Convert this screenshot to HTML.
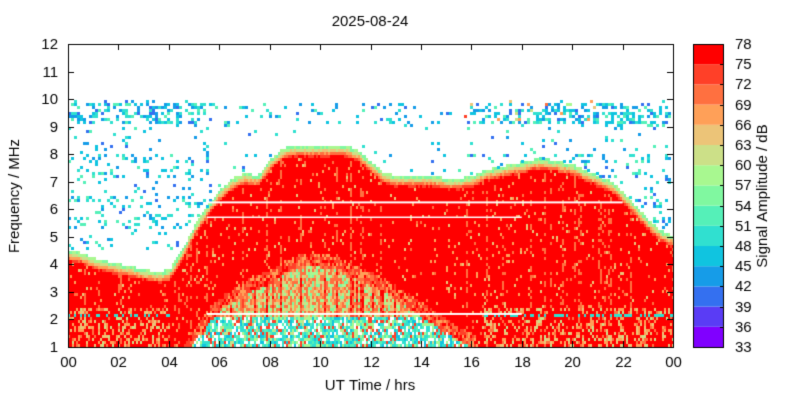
<!DOCTYPE html>
<html><head><meta charset="utf-8"><style>
body{margin:0;background:#fff;}
#wrap{position:relative;width:800px;height:400px;font-family:"Liberation Sans",sans-serif;}
canvas{position:absolute;left:0;top:0;}
</style></head><body>
<div id="wrap">
<canvas id="c" width="800" height="400"></canvas>
</div>
<script>
// ---- data ----
const envTimes=[0,0.5,1,1.5,2,2.5,3,3.5,4,4.5,5,5.5,6,6.5,7,7.5,8,8.5,9,9.5,10,10.5,11,11.5,12,12.5,13,13.5,14,14.5,15,15.5,16,16.5,17,17.5,18,18.5,19,19.5,20,20.5,21,21.5,22,22.5,23,23.5,24];
const envTop=[4.4,4.3,4.1,4.0,3.9,3.8,3.7,3.6,3.7,4.4,5.3,6.0,6.6,7.0,7.2,7.1,7.7,8.1,8.2,8.2,8.2,8.2,8.2,8.0,7.6,7.2,7.1,7.1,7.1,7.1,7.0,7.0,7.1,7.3,7.4,7.5,7.6,7.7,7.7,7.6,7.5,7.3,7.1,6.9,6.5,6.0,5.5,5.1,4.9];
const absTop=[0,0,0,0,0,0,0,0,0,0.5,1.2,1.8,2.3,2.6,2.9,3.1,3.3,3.6,3.8,3.9,3.9,3.8,3.6,3.4,3.2,3.0,2.7,2.4,2.1,1.8,1.5,1.2,1.0,0,0,0,0,0,0,0,0,0,0,0,0,0,0,0,0];
const dotDensity=[0.2,0.2,0.2,0.2,0.2,0.2,0.2,0.2,0.2,0.2,0.2,0.18,0.04,0.04,0.04,0.04,0.04,0.04,0.04,0.04,0.05,0.05,0.05,0.06,0.07,0.07,0.07,0.07,0.07,0.07,0.07,0.07,0.08,0.1,0.12,0.14,0.16,0.18,0.2,0.2,0.2,0.2,0.2,0.2,0.2,0.2,0.2,0.2,0.2];
const xTicks=["00","02","04","06","08","10","12","14","16","18","20","22","00"];
const yTicks=[1,2,3,4,5,6,7,8,9,10,11,12];
const cbLevels=[33,36,39,42,45,48,51,54,57,60,63,66,69,72,75,78];
const cbColors=["#8000ff","#5a3cf5","#3470f0","#169ce8","#10c4e0","#30e0d0","#55f0b8","#80f8a0","#a8f890","#cce088","#ecc478","#ffa058","#ff7040","#ff4028","#ff0000"];
// ---- axes ----
const X0=68,X1=673,Y0=347,Y1=44;
const xs=t=>X0+t/24*(X1-X0);
const ys=f=>Y0-(f-1)/11*(Y0-Y1);
const ctx=document.getElementById('c').getContext('2d');
function interp(arr,t){const i=Math.min(Math.floor(t*2),47);const a=t*2-i;return arr[i]*(1-a)+arr[i+1]*a;}
function h(i,j){let n=(i*374761393+j*668265263)|0;n=(n^(n>>>13))*1274126177|0;n=n^(n>>>16);return ((n>>>0)%10000)/10000;}
function col(v){let k=Math.floor((v-33)/3);k=Math.max(0,Math.min(14,k));return cbColors[k];}
// spectrogram
for(let px=X0;px<X1;px+=2){
  const t=(px-X0)/(X1-X0)*24, top=interp(envTop,t), ab=interp(absTop,t), ci=px>>1;
  const colN=h(ci,7);
  for(let py=Y1;py<Y0;py+=3){
    const f=1+(Y0-py-1.5)/(Y0-Y1)*11, ri=py|0, r=h(ci,ri);
    let v=null;
    if(f<top-0.3){
      if(f<ab){
        if(f<2.1){ if(r<0.8) v=(r<0.12)?74:(r<0.3?55+r*20:42+r*14); }
        else v=(r<0.22||colN>0.82)?70+r*8:50+r*20;
      } else if(f<ab+0.5 && ab>0){ v=(r<0.45)?74+r*4:60+r*14; }
      else { v=(r<0.07)?64+r*100:75.5; if(colN>0.9&&r<0.4)v=70; }
      if(ab===0&&f<2.4&&r<0.35) v=62+r*25;
      if(ab===0&&f<2.2&&f>2.05&&r<0.5) v=50;
    } else if(f<top){ v=60+(top-f)/0.3*16+(r-0.5)*4; }
    else if(f<top+0.12){ v=55+r*4; }
    if(v!==null){ctx.fillStyle=col(v);ctx.fillRect(px,py,2,3);}
  }
}
// scattered dots
for(let px=X0;px<X1-2;px+=3){
  const t=(px-X0)/(X1-X0)*24, top=interp(envTop,t), d=interp(dotDensity,t), ci=px;
  for(let py=Y1+5;py<Y0;py+=3){
    const f=1+(Y0-py)/(Y0-Y1)*11; if(f<=top+0.15||f>10) continue;
    const r=h(ci+999,py), band=(f>9.2&&f<9.9)?3.5:((f>7.7&&f<8.1)||(f>5.3&&f<5.9)||(f>6.1&&f<6.5)||(f>7.2&&f<7.5))?1.8:0.6;
    if(t<5.6||t>19.5){ if(f<4.6) continue; }
    if(t>5.6&&t<16 && f<8 && f>top+0.5 && r>0.02) continue;
    if(r<d*band*0.6){const v=(t>15.5&&t<22&&f>9.3&&r<0.06)?58+r*250:41+h(py,ci)*12;ctx.fillStyle=col(v);ctx.fillRect(px,py,3,3);}
  }
}
// white lines
ctx.fillStyle="#fff";
ctx.fillRect(xs(5.5),ys(6.25)-1,xs(22)-xs(5.5),2);
ctx.fillRect(xs(5.5),ys(5.7)-1,xs(18)-xs(5.5),1.5);
ctx.fillRect(xs(5.5),ys(2.2)-1,xs(18)-xs(5.5),2);
// frame & ticks
ctx.strokeStyle="#000";ctx.lineWidth=1;
ctx.strokeRect(X0+0.5,Y1+0.5,X1-X0,Y0-Y1);
ctx.fillStyle="#000";ctx.font="15px 'Liberation Sans',sans-serif";
ctx.textAlign="center";ctx.textBaseline="top";
xTicks.forEach((l,i)=>{const x=Math.round(xs(i*2))+0.5;ctx.beginPath();ctx.moveTo(x,Y0);ctx.lineTo(x,Y0-6);ctx.moveTo(x,Y1);ctx.lineTo(x,Y1+6);ctx.stroke();ctx.fillText(l,x,355);});
ctx.textAlign="right";ctx.textBaseline="middle";
yTicks.forEach(v=>{const y=Math.round(ys(v))+0.5;ctx.beginPath();ctx.moveTo(X0,y);ctx.lineTo(X0+6,y);ctx.moveTo(X1,y);ctx.lineTo(X1-6,y);ctx.stroke();ctx.fillText(v,58,y);});
ctx.textAlign="center";ctx.textBaseline="alphabetic";
ctx.fillText("UT Time / hrs",370,390);
ctx.fillText("2025-08-24",370,26);
ctx.save();ctx.translate(19,196);ctx.rotate(-Math.PI/2);ctx.fillText("Frequency / MHz",0,0);ctx.restore();
// colorbar
const CX=693,CW=30;
cbColors.forEach((c,i)=>{const ya=Y0-(i)*(Y0-Y1)/15, yb=Y0-(i+1)*(Y0-Y1)/15;ctx.fillStyle=c;ctx.fillRect(CX,yb,CW,ya-yb);});
ctx.strokeRect(CX+0.5,Y1+0.5,CW,Y0-Y1);
ctx.fillStyle="#000";ctx.textAlign="left";ctx.textBaseline="middle";
cbLevels.forEach((v,i)=>{const y=Math.round(Y0-i*(Y0-Y1)/15)+0.5;ctx.beginPath();ctx.moveTo(CX+CW-3,y);ctx.lineTo(CX+CW,y);ctx.stroke();ctx.fillText(v,735,y);});
ctx.save();ctx.translate(767,196);ctx.rotate(-Math.PI/2);ctx.textAlign="center";ctx.textBaseline="alphabetic";ctx.fillText("Signal Amplitude / dB",0,0);ctx.restore();
</script>
</body></html>
